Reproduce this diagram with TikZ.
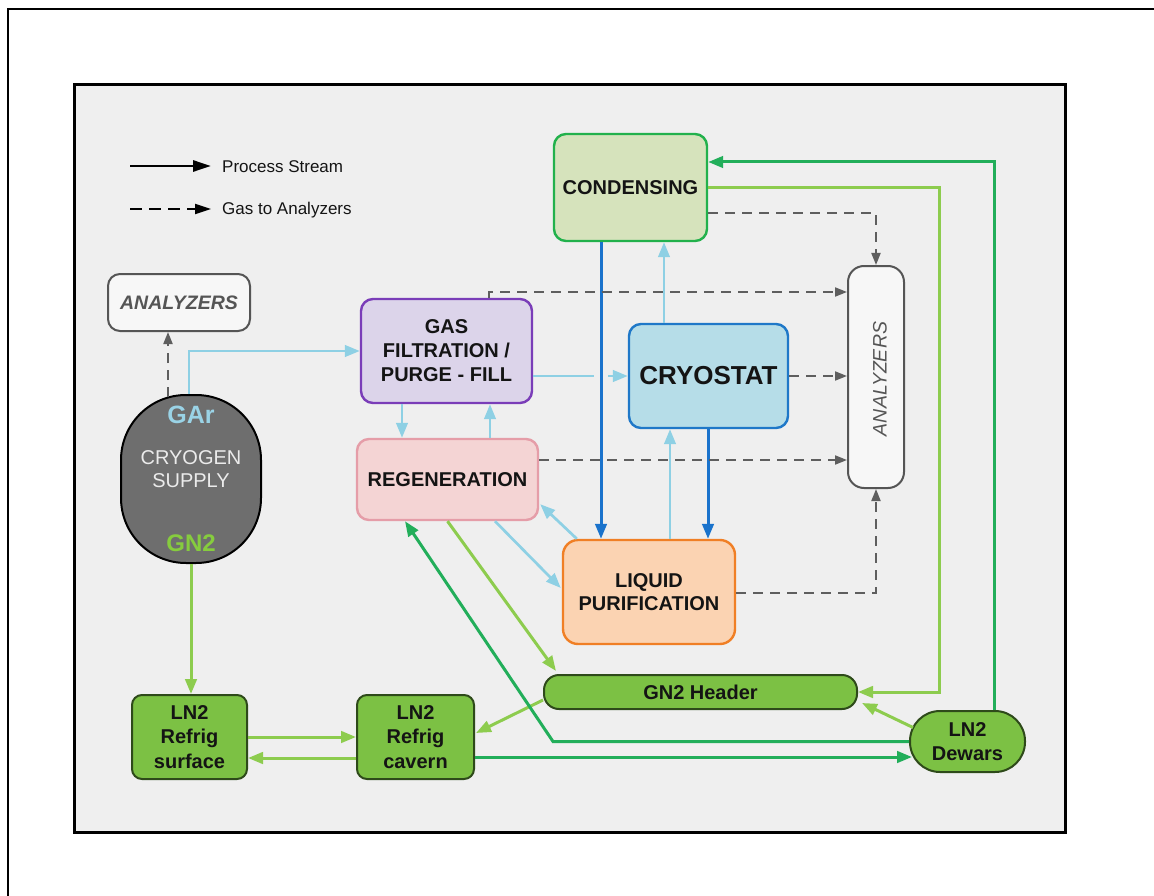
\documentclass[tikz,border=0pt]{standalone}
\usepackage{fontspec}
\setmainfont{Liberation Sans}
\usetikzlibrary{arrows.meta,calc}
\definecolor{bgc}{HTML}{EFEFEF}
\definecolor{txtc}{HTML}{141414}
\definecolor{condf}{HTML}{D6E3BC}
\definecolor{condb}{HTML}{22B14C}
\definecolor{cryof}{HTML}{B6DDE8}
\definecolor{cryob}{HTML}{1F78C8}
\definecolor{gasf}{HTML}{DCD4EA}
\definecolor{gasb}{HTML}{7A3DB8}
\definecolor{regf}{HTML}{F4D4D4}
\definecolor{regb}{HTML}{E59DA8}
\definecolor{lpf}{HTML}{FBD3B2}
\definecolor{lpb}{HTML}{F07F25}
\definecolor{gfill}{HTML}{7CC144}
\definecolor{gborder}{HTML}{2E4A1A}
\definecolor{supf}{HTML}{6E6E6E}
\definecolor{anf}{HTML}{F7F7F7}
\definecolor{ang}{HTML}{555555}
\definecolor{cyc}{HTML}{8ED0E4}
\definecolor{blc}{HTML}{1A73CC}
\definecolor{lgc}{HTML}{8DCC4E}
\definecolor{dgc}{HTML}{22AE5A}
\definecolor{dgray}{HTML}{5E5E5E}
\definecolor{garc}{HTML}{9AD3E6}
\definecolor{gn2c}{HTML}{86CC3E}
\begin{document}
\begin{tikzpicture}[x=1pt,y=-1pt,
 procbox/.style={draw, rounded corners=12pt, line width=2.4pt, inner sep=0pt, align=center, text=txtc, font=\bfseries\fontsize{20}{24}\selectfont},
 gbox/.style={procbox, fill=gfill, draw=gborder, rounded corners=10pt, line width=2pt, font=\bfseries\fontsize{20}{24.5}\selectfont},
 anbox/.style={draw=ang, fill=anf, line width=2pt, rounded corners=12pt, inner sep=0pt, text=ang},
 arrowhd/.style={-{Triangle[length=15pt,width=11.5pt]}},
 cyanln/.style={draw=cyc, line width=2.7pt, arrowhd},
 blueln/.style={draw=blc, line width=3pt, arrowhd},
 lgreenln/.style={draw=lgc, line width=3pt, arrowhd},
 dgreenln/.style={draw=dgc, line width=3pt, arrowhd},
 gasln/.style={draw=dgray, line width=1.9pt, dash pattern=on 10pt off 7pt, -{Triangle[length=12pt,width=9pt]}},
]
\useasboundingbox (0,0) rectangle (1154,896);
\fill[white] (0,0) rectangle (1154,896);
\draw[line width=2pt] (8,896) -- (8,9) -- (1154,9);
\draw[line width=3pt, fill=bgc] (74.5,85) rectangle (1065.5,832);

% legend
\coordinate (lg1a) at (130,166);
\coordinate (lg1b) at (211,166);
\coordinate (lg2a) at (130,209);
\coordinate (lg2b) at (211,209);
\draw[line width=2.8pt, -{Triangle[length=18pt,width=11pt]}] (lg1a) -- (lg1b);
\draw[line width=1.8pt, dash pattern=on 12pt off 7pt, -{Triangle[length=16pt,width=10pt]}] (lg2a) -- (lg2b);
\node[anchor=base west, inner sep=0pt, text=txtc, font=\fontsize{17}{19}\selectfont] (lgt1) at (222,173) {Process Stream};
\node[anchor=base west, inner sep=0pt, text=txtc, font=\fontsize{17}{19}\selectfont] (lgt2) at (222,215) {Gas to Analyzers};

% nodes
\node[procbox, fill=condf, draw=condb, minimum width=153pt, minimum height=107pt] (cond) at (630.5,187.5) {CONDENSING};
\node[procbox, fill=cryof, draw=cryob, minimum width=159pt, minimum height=104pt, font=\bfseries\fontsize{26}{30}\selectfont] (cryo) at (708.5,376) {CRYOSTAT};
\node[procbox, fill=gasf, draw=gasb, minimum width=171pt, minimum height=104pt] (gas) at (446.5,351) {GAS\\FILTRATION /\\PURGE - FILL};
\node[procbox, fill=regf, draw=regb, minimum width=181pt, minimum height=81pt] (regen) at (447.5,479.5) {REGENERATION};
\node[procbox, fill=lpf, draw=lpb, minimum width=172pt, minimum height=104pt, rounded corners=15pt, font=\bfseries\fontsize{20}{23}\selectfont] (lp) at (649,592) {LIQUID\\PURIFICATION};
\node[anbox, minimum width=142pt, minimum height=57pt, font=\bfseries\itshape\fontsize{19.5}{22}\selectfont] (anS) at (179,302.5) {ANALYZERS};
\node[anbox, rounded corners=16pt, minimum width=56pt, minimum height=222pt, label={[rotate=90, xshift=-2pt, yshift=-4pt, text=ang, font=\itshape\fontsize{19.5}{22}\selectfont]center:ANALYZERS}] (anB) at (876,377) {};
\node[draw=black, fill=supf, line width=2pt, rounded corners=65pt, minimum width=140pt, minimum height=168pt, inner sep=0pt, align=center, text=white!92!black, font=\fontsize{20}{23}\selectfont] (supply) at (191,479) {{\bfseries\fontsize{25}{25}\selectfont\color{garc}GAr}\\[18pt]CRYOGEN\\SUPPLY\\[41pt]{\bfseries\fontsize{24}{24}\selectfont\color{gn2c}GN2}};
\node[gbox, minimum width=115pt, minimum height=84pt] (surf) at (189.5,737) {LN2\\Refrig\\surface};
\node[gbox, minimum width=117pt, minimum height=84pt] (cav) at (415.5,737) {LN2\\Refrig\\cavern};
\node[gbox, rounded corners=15pt, minimum width=313pt, minimum height=34pt] (hdr) at (700.5,692) {GN2 Header};
\node[gbox, rounded corners=30pt, minimum width=115pt, minimum height=61pt] (dew) at (967.5,741.5) {LN2\\Dewars};

% cyan
\draw[cyanln] ($(supply.north)+(-2,0)$) |- (gas.west);
\draw[cyanln] (cryo.west -| gas.east) -- (cryo.west);
\draw[cyanln] ($(gas.south)+(-44.5,0)$) -- ($(regen.north)+(-45.5,0)$);
\draw[cyanln] ($(regen.north)+(42.5,0)$) -- ($(gas.south)+(43.5,0)$);
\draw[cyanln] ($(cryo.north)+(-44.5,0)$) -- ($(cond.south)+(33.5,0)$);
\draw[cyanln] ($(lp.north)+(21,0)$) -- ($(cryo.south)+(-38.5,0)$);
\draw[cyanln] ($(lp.north west)+(15,0)$) -- ($(regen.south east)+(1,-17)$);
\draw[cyanln] ($(regen.south)+(47.5,0)$) -- ($(lp.west)+(-1,-4)$);

% blue
\fill[bgc] (594,370) rectangle (608,383);
\draw[blueln] ($(cond.south)+(-29.5,0)$) -- ($(lp.north)+(-48,0)$);
\draw[blueln] ($(cryo.south)+(-0.5,0)$) -- ($(lp.north)+(59,0)$);

% light green
\draw[lgreenln] (cond.east) -| ($(hdr.east)+(81,0)$) -- (hdr.east);
\draw[lgreenln] ($(dew.west)+(4,-14)$) -- ($(hdr.south east)+(4,-7)$);
\draw[lgreenln] ($(hdr.west)+(0,8)$) -- ($(cav.east)+(1,-4)$);
\draw[lgreenln] (regen.south) -- ($(hdr.north west)+(13,-3)$);
\draw[lgreenln] (supply.south) -- (supply.south |- surf.north);
\draw[lgreenln] (surf.east) -- (cav.west);
\draw[lgreenln] ($(cav.west)+(0,21)$) -- ($(surf.east)+(0,21)$);

% dark green
\draw[dgreenln] ($(dew.north)+(26.5,0)$) |- ($(cond.east)+(0,-25.5)$);
\draw[dgreenln] (dew.west) -- ($(dew.west)+(-356,0)$) -- ($(regen.south)+(-42.5,0)$);
\draw[dgreenln] ($(cav.east)+(0,20)$) -- ($(dew.west)+(3,15.5)$);

% dashed gas to analyzers
\draw[gasln] ($(supply.north)+(-23,3)$) -- ($(anS.south)+(-11,0)$);
\draw[gasln] ($(gas.north)+(42.5,0)$) |- ($(anB.west)+(0,-85)$);
\draw[gasln] (cryo.east) -- (cryo.east -| anB.west);
\draw[gasln] ($(regen.east)+(0,-19.5)$) -- ($(anB.west)+(0,83)$);
\draw[gasln] ($(lp.east)+(0,1)$) -| (anB.south);
\draw[gasln] ($(cond.east)+(0,25.5)$) -| (anB.north);
\end{tikzpicture}
\end{document}
